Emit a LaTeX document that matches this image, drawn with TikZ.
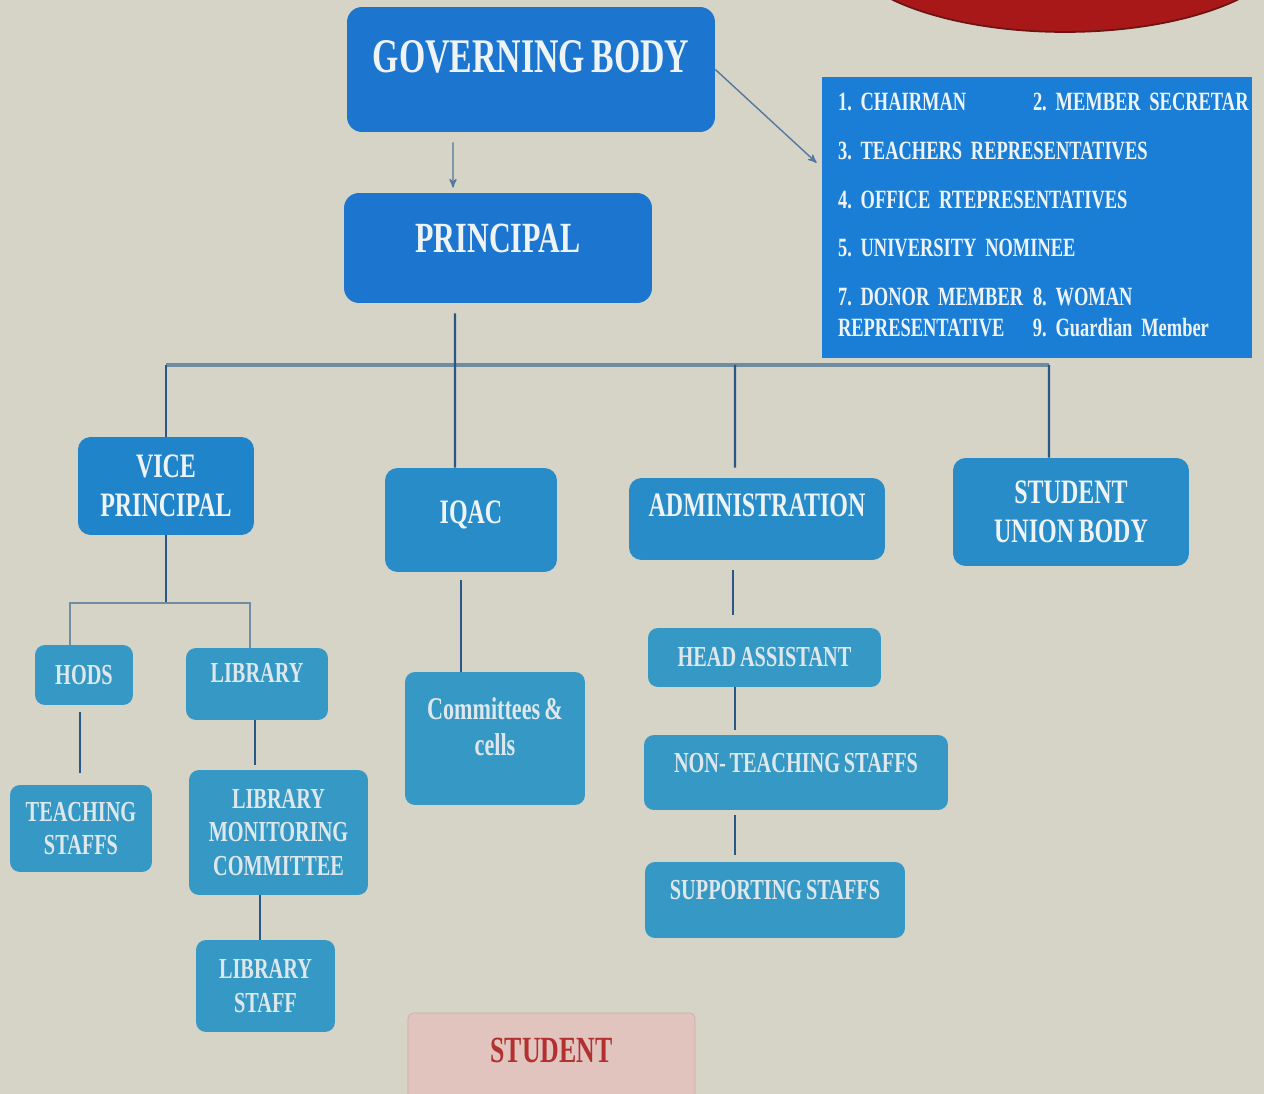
\documentclass[tikz,border=0pt]{standalone}
\usepackage{fontspec}
\newfontfamily\orgfont{Liberation Serif}[FakeStretch=0.7, WordSpace=0.75]
\frenchspacing
\usepackage{tikz}
\usetikzlibrary{arrows,positioning,calc}
\definecolor{paper}{RGB}{214,211,199}
\definecolor{gbblue}{RGB}{28,118,208}
\definecolor{listblue}{RGB}{26,126,214}
\definecolor{vpblue}{RGB}{32,132,202}
\definecolor{midblue}{RGB}{40,140,200}
\definecolor{lowblue}{RGB}{54,152,196}
\definecolor{boxtext}{RGB}{238,243,246}
\definecolor{lowtext}{RGB}{222,232,236}
\definecolor{linkblue}{RGB}{40,88,135}
\definecolor{busgrey}{RGB}{112,140,160}
\definecolor{stupink}{RGB}{226,196,190}
\definecolor{stuline}{RGB}{204,176,170}
\definecolor{stured}{RGB}{178,48,48}
\definecolor{sealred}{RGB}{168,24,24}
\definecolor{sealdark}{RGB}{110,20,20}
\tikzset{
    board/.style={
        rectangle,
        rounded corners=3mm,
        fill=gbblue,
        text=boxtext,
        inner sep=2pt,
        align=center,
    },
    unit/.style={
        rectangle,
        rounded corners=2.5mm,
        fill=midblue,
        text=boxtext,
        inner sep=2pt,
        align=center,
        font=\orgfont\fontsize{19.5}{22}\selectfont\bfseries,
    },
    sub-unit/.style={
        rectangle,
        rounded corners=2mm,
        fill=lowblue,
        text=lowtext,
        inner sep=2pt,
        align=center,
        font=\orgfont\fontsize{16.5}{19}\selectfont\bfseries,
    },
    member-list/.style={
        rectangle,
        fill=listblue,
        text=boxtext,
        inner xsep=0.32cm,
        inner ysep=2pt,
        align=left,
        font=\orgfont\fontsize{15}{18}\selectfont\bfseries,
    },
    student/.style={
        rectangle,
        rounded corners=1mm,
        fill=stupink,
        draw=stuline,
        text=stured,
        inner sep=2pt,
        font=\orgfont\fontsize{21}{24}\selectfont\bfseries,
    },
    link/.style={
        draw=linkblue,
        line width=1.3pt,
    },
    bus/.style={
        draw=busgrey,
        line width=1.8pt,
    },
    pointer/.style={
        draw=linkblue!80,
        ->,>=stealth',
        line width=0.8pt,
    },
}
\begin{document}
\begin{tikzpicture}[x=0.02cm, y=-0.02cm]
\useasboundingbox (0,0) rectangle (1264,1094);
\clip (0,0) rectangle (1264,1094);
\fill[paper] (0,0) rectangle (1264,1094);
\fill[sealred, draw=sealdark, line width=1pt] (1065,-58) ellipse [x radius=4.5cm, y radius=1.8cm];

% top of the chart
\node[board, font=\orgfont\fontsize{27.5}{30}\selectfont\bfseries, minimum width=7.36cm, minimum height=2.5cm, text depth=0.52cm] (GB) at (531,69.5) {GOVERNING BODY};
\node[board, font=\orgfont\fontsize{24.5}{27}\selectfont\bfseries, minimum width=6.16cm, minimum height=2.2cm, text depth=0.4cm] (PR) at (498,248) {PRINCIPAL};
\node[member-list, minimum width=8.6cm, minimum height=5.62cm, text width=7.96cm] (MB) at (1037,217.5) {%
\begin{tabular}{@{}p{3.9cm}@{}l@{}}
1. CHAIRMAN & 2. MEMBER SECRETAR\\[0.34cm]
\multicolumn{2}{@{}l@{}}{3. TEACHERS REPRESENTATIVES}\\[0.34cm]
\multicolumn{2}{@{}l@{}}{4. OFFICE RTEPRESENTATIVES}\\[0.34cm]
\multicolumn{2}{@{}l@{}}{5. UNIVERSITY NOMINEE}\\[0.34cm]
7. DONOR MEMBER & 8. WOMAN\\
REPRESENTATIVE & 9. Guardian Member
\end{tabular}};

% second row
\node[unit, fill=vpblue, minimum width=3.52cm, minimum height=1.96cm] (VP) at (166,486) {VICE\\PRINCIPAL};
\node[unit, minimum width=3.44cm, minimum height=2.08cm, text height=0.47cm, text depth=0.32cm] (IQ) at (471,520) {IQAC};
\node[unit, minimum width=5.12cm, minimum height=1.64cm, text depth=0.56cm] (AD) at (757,519) {ADMINISTRATION};
\node[unit, minimum width=4.72cm, minimum height=2.16cm] (SU) at (1071,512) {STUDENT\\UNION BODY};

% lower boxes
\node[sub-unit, minimum width=1.96cm, minimum height=1.2cm] (HO) at (84,675) {HODS};
\node[sub-unit, minimum width=2.84cm, minimum height=1.44cm, text depth=0.44cm] (LI) at (257,684) {LIBRARY};
\node[sub-unit, minimum width=2.84cm, minimum height=1.74cm] (TS) at (81,828.5) {TEACHING\\STAFFS};
\node[sub-unit, minimum width=3.58cm, minimum height=2.5cm] (LM) at (278.5,832.5) {LIBRARY\\MONITORING\\COMMITTEE};
\node[sub-unit, minimum width=2.78cm, minimum height=1.84cm] (LS) at (265.5,986) {LIBRARY\\STAFF};
\node[sub-unit, font=\orgfont\fontsize{18}{21}\selectfont\bfseries, minimum width=3.6cm, minimum height=2.66cm, text depth=0.48cm] (CC) at (495,738.5) {Committees \&\\cells};
\node[sub-unit, minimum width=4.66cm, minimum height=1.18cm] (HA) at (764.5,657.5) {HEAD ASSISTANT};
\node[sub-unit, minimum width=6.08cm, minimum height=1.5cm, text depth=0.4cm] (NT) at (796,772.5) {NON- TEACHING STAFFS};
\node[sub-unit, minimum width=5.2cm, minimum height=1.52cm, text depth=0.4cm] (SS) at (775,900) {SUPPORTING STAFFS};
\node[student, minimum width=5.74cm, minimum height=1.94cm, text depth=0.44cm] (ST) at (551.5,1061.5) {STUDENT};

% connectors
\coordinate (J) at (455,365);
\coordinate (JA) at (735,365);
\coordinate (JR) at (1049,365);
\coordinate (K) at (166,603);
\draw[pointer, shorten <=0.2cm, shorten >=0.1cm] ([xshift=-1.56cm]GB.south) -- ([xshift=-0.9cm]PR.north);
\draw[pointer, shorten >=0.14cm] (GB.east) -- ([yshift=1.0cm]MB.west);
\draw[bus] (VP.north |- J) -- (JR);
\draw[link, shorten <=0.2cm] ([xshift=-0.86cm]PR.south) -- ([xshift=-0.32cm]IQ.north);
\draw[link] (VP.north |- J) -- (VP.north);
\draw[link, shorten >=0.2cm] (JA) -- ([xshift=-0.44cm]AD.north);
\draw[link] (JR) -- ([xshift=-0.44cm]SU.north);
\draw[link] (VP.south) -- (K);
\draw[bus, line width=1.3pt] ([xshift=-0.28cm]HO.north) |- (K) -| ([xshift=-0.14cm]LI.north);
\draw[link, shorten <=0.14cm, shorten >=0.24cm] ([xshift=-0.08cm]HO.south) coordinate (h1) -- (h1 |- TS.north);
\draw[link, shorten >=0.1cm] ([xshift=-0.04cm]LI.south) coordinate (l1) -- (l1 |- LM.north);
\draw[link] ([xshift=-0.37cm]LM.south) coordinate (l2) -- (l2 |- LS.north);
\draw[link, shorten <=0.16cm] ([xshift=-0.2cm]IQ.south) coordinate (q1) -- (q1 |- CC.north);
\draw[link, shorten <=0.2cm, shorten >=0.26cm] ([xshift=-0.48cm]AD.south) coordinate (a1) -- (a1 |- HA.north);
\draw[link, shorten >=0.1cm] ([xshift=-0.59cm]HA.south) coordinate (a2) -- (a2 |- NT.north);
\draw[link, shorten <=0.1cm, shorten >=0.14cm] ([xshift=-1.22cm]NT.south) coordinate (a3) -- (a3 |- SS.north);
\end{tikzpicture}
\end{document}
